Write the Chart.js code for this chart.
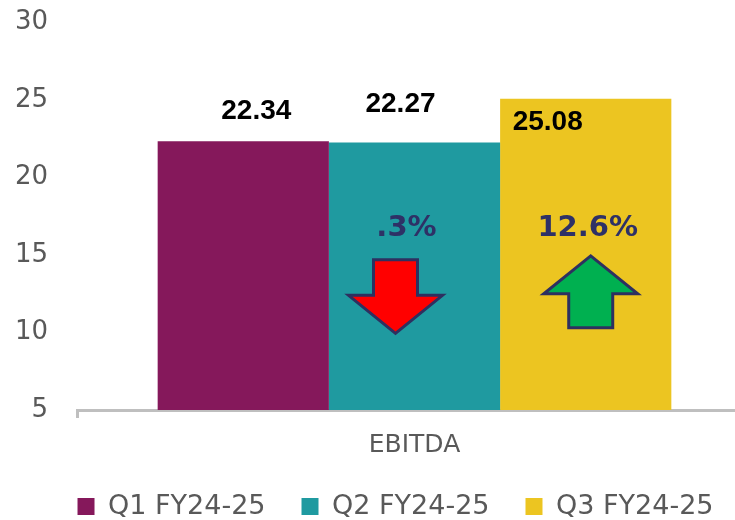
<!DOCTYPE html>
<html>
<head>
<meta charset="utf-8">
<script src="https://cdn.jsdelivr.net/npm/chart.js@4.4.1/dist/chart.umd.min.js"></script>
<style>
  html, body { margin: 0; padding: 0; background: #fff; overflow: hidden; }
  .wrap { position: relative; width: 752px; height: 530px; }
</style>
</head>
<body>
<div class="wrap"><canvas id="ebitdaChart"></canvas></div>
<script>
// chart data
const categories = ['EBITDA'];
const quarters = ['Q1 FY24-25', 'Q2 FY24-25', 'Q3 FY24-25'];
const ebitda = [22.34, 22.27, 25.08];
const changeText = ['', '.3%', '12.6%'];
const changeDir = ['', 'down', 'up'];
const yMin = 5, yMax = 30, yStep = 5;

const barColors = ['#85185B', '#1F9AA0', '#ECC521'];
const FONT = '"DejaVu Sans", sans-serif';

// value labels + change arrows drawn on top of the bars
const barNotes = {
  id: 'barNotes',
  afterDatasetsDraw(chart, args, opts) {
    const ctx = chart.ctx;
    const y = chart.scales.y;
    ctx.save();
    quarters.forEach((q, i) => {
      const bar = chart.getDatasetMeta(i).data[0];
      if (!bar) return;
      const nudge = opts.labelNudge[i];
      ctx.font = 'bold 28px "Liberation Sans", Arial, sans-serif';
      ctx.fillStyle = '#000';
      ctx.textAlign = 'center';
      ctx.textBaseline = 'middle';
      ctx.fillText(ebitda[i].toFixed(2), bar.x + nudge[0], bar.y + nudge[1]);

      if (!changeText[i]) return;
      const a = opts.arrows[i];
      ctx.font = 'bold 29px ' + FONT;
      ctx.fillStyle = '#2E3166';
      ctx.fillText(changeText[i], bar.x + a.tdx, y.getPixelForValue(16.7));

      const cx = bar.x + a.dx;
      const down = changeDir[i] === 'down';
      const yTail = y.getPixelForValue(down ? 14.7 : 10.3);
      const yTip = y.getPixelForValue(down ? 9.95 : 14.95);
      const s = down ? 1 : -1;
      const neck = yTip - s * 38;
      ctx.beginPath();
      ctx.moveTo(cx - 22, yTail);
      ctx.lineTo(cx - 22, neck);
      ctx.lineTo(cx - 47, neck);
      ctx.lineTo(cx, yTip);
      ctx.lineTo(cx + 47, neck);
      ctx.lineTo(cx + 22, neck);
      ctx.lineTo(cx + 22, yTail);
      ctx.closePath();
      ctx.fillStyle = down ? '#FF0000' : '#00B050';
      ctx.fill();
      ctx.lineWidth = 3;
      ctx.strokeStyle = '#2E3060';
      ctx.stroke();
    });
    ctx.restore();
  }
};

// nudge legend right so it sits under the plot like the original
const legendShift = {
  id: 'legendShift',
  afterLayout(chart, args, opts) {
    if (!chart.legend) return;
    chart.legend.left += opts.dx;
    chart.legend.right += opts.dx;
  }
};

new Chart(document.getElementById('ebitdaChart'), {
  type: 'bar',
  data: {
    labels: categories,
    datasets: quarters.map((q, i) => ({
      label: q,
      data: [ebitda[i]],
      backgroundColor: barColors[i],
      borderWidth: 0,
      categoryPercentage: 0.761,
      barPercentage: 1,
    }))
  },
  options: {
    responsive: true,
    maintainAspectRatio: false,
    animation: false,
    layout: {
      padding: { top: 0, left: 15, right: 0, bottom: 0 }
    },
    plugins: {
      legend: {
        position: 'bottom',
        labels: {
          color: '#595959',
          boxWidth: 17,
          boxHeight: 17,
          padding: 36,
          font: { family: FONT, size: 27 }
        }
      },
      tooltip: { enabled: false },
      barNotes: {
        labelNudge: [[13, -30], [-14, -38], [-38, 23]],
        arrows: [null, { dx: -19, tdx: -8 }, { dx: 5, tdx: 2 }]
      },
      legendShift: { dx: 12 }
    },
    scales: {
      x: {
        border: { color: '#BFBFBF', width: 3 },
        grid: {
          display: true,
          drawOnChartArea: false,
          drawTicks: true,
          tickLength: 8,
          color: '#BFBFBF',
          lineWidth: 3,
        },
        ticks: {
          color: '#595959',
          padding: 12,
          font: { family: FONT, size: 25 }
        },
        afterFit(scale) { scale.height = 47; }
      },
      y: {
        min: yMin,
        max: yMax,
        border: { display: false },
        grid: { display: false, drawTicks: true, tickLength: 22 },
        ticks: {
          stepSize: yStep,
          color: '#595959',
          padding: 7,
          font: { family: FONT, size: 26 }
        },
        afterFit(scale) { scale.width = 62; }
      }
    }
  },
  plugins: [barNotes, legendShift]
});
</script>
</body>
</html>
